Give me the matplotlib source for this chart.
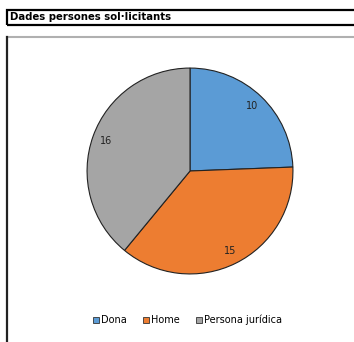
import matplotlib.pyplot as plt
from matplotlib.patches import Rectangle, Patch
from matplotlib.lines import Line2D

title = "Dades persones sol·licitants"
categories = ["Dona", "Home", "Persona jurídica"]
values = [10, 15, 16]
colors = ["#5B9BD5", "#ED7D31", "#A5A5A5"]

plt.rcParams['font.family'] = ['DejaVu Sans']

W, H = 354, 342
fig = plt.figure(figsize=(W / 100, H / 100), dpi=100)

# title box
fig.add_artist(Rectangle((7 / W, 1 - 25 / H), 400 / W, 15 / H, transform=fig.transFigure,
                         fill=False, edgecolor="black", linewidth=1.6))
fig.text(10 / W, 1 - 17.5 / H, title, fontsize=7.3, fontweight="bold", va="center", ha="left")

# chart frame
fig.add_artist(Line2D([7 / W, 1.0], [1 - 37 / H, 1 - 37 / H], transform=fig.transFigure,
                      color="#b0b0b0", linewidth=1.5))
fig.add_artist(Line2D([7 / W, 7 / W], [1 - 37 / H, 0.0], transform=fig.transFigure,
                      color="#222222", linewidth=1.6))

cx, cy, r = 190 / W, 1 - 171 / H, 105
ax = fig.add_axes([cx - r / W, cy - r / H, 2 * r / W, 2 * r / H])
wedges, texts, autotexts = ax.pie(values, colors=colors, startangle=90, counterclock=False,
                                  autopct=lambda p: "%d" % round(p * sum(values) / 100),
                                  pctdistance=0.87, radius=1,
                                  wedgeprops=dict(edgecolor="#222222", linewidth=0.8),
                                  textprops=dict(fontsize=7, color="#222222"))
ax.set_xlim(-1.02, 1.02)
ax.set_ylim(-1.02, 1.02)
ax.axis("off")

handles = [Patch(facecolor=c, edgecolor="#333333", linewidth=0.6) for c in colors]
fig.legend(handles, categories, loc="center", bbox_to_anchor=(0.53, 1 - 320 / H), ncol=3,
           frameon=False, fontsize=7, handlelength=0.6, handleheight=0.6,
           handletextpad=0.2, columnspacing=1.7)

fig.savefig("out.png", dpi=100)
